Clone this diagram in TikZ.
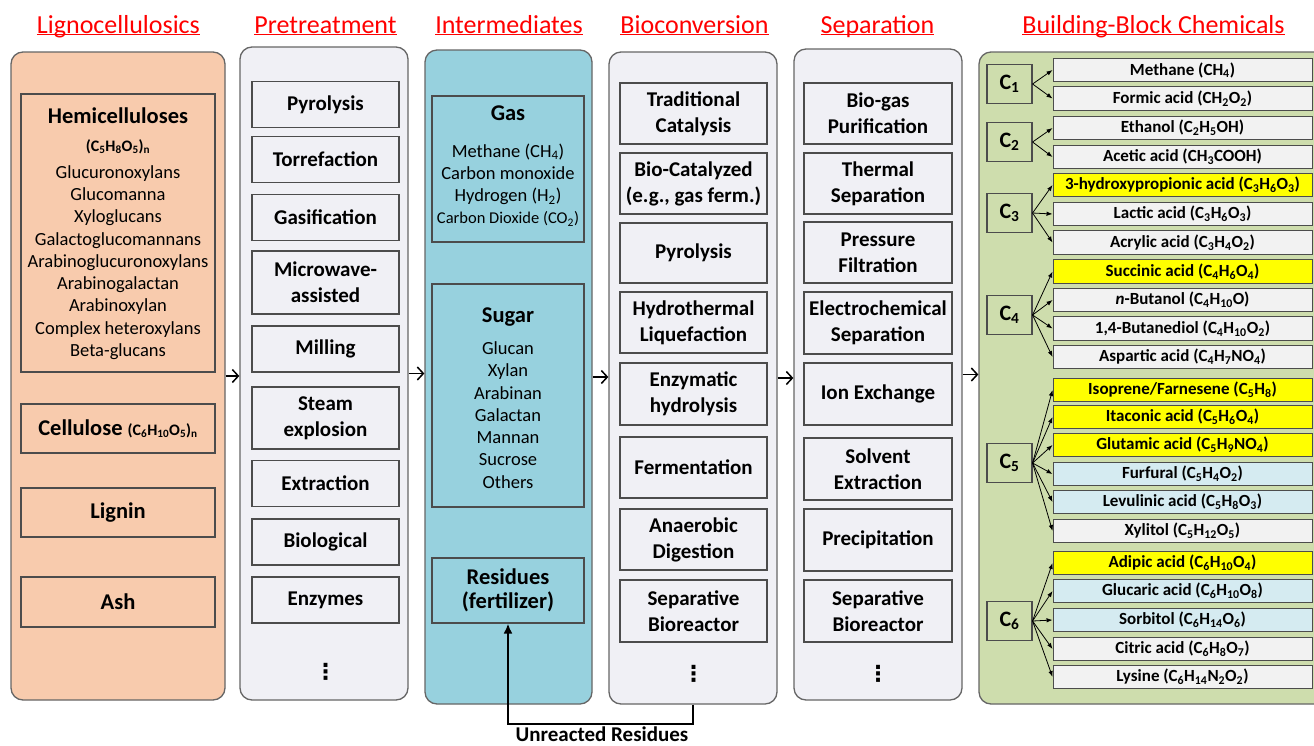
\documentclass[tikz,border=0pt]{standalone}
\usepackage{fontspec}
\setmainfont{Carlito}
\newfontfamily\symfont{DejaVu Sans}
\usetikzlibrary{arrows.meta}

\definecolor{peach}{HTML}{F8CBAD}
\definecolor{palebg}{HTML}{F0F0F5}
\definecolor{interbg}{HTML}{97D1DE}
\definecolor{olivebg}{HTML}{CEDDAD}
\definecolor{chemgray}{HTML}{F2F2F2}
\definecolor{chemblue}{HTML}{D5EBF1}
\definecolor{chemyellow}{HTML}{FFFF00}

\newcommand{\sbs}[1]{\textsubscript{#1}}
\newcommand{\ulhead}[1]{\setbox0\hbox{#1}\rlap{\rule[-2.4pt]{\wd0}{1.5pt}}\box0}

\begin{document}
\begin{tikzpicture}[x=1pt, y=-1pt,
    stage/.style={draw=black!60, line width=1.3pt, rounded corners=12pt, inner sep=0pt},
    heading/.style={anchor=base, text=red, font=\fontsize{26}{30}\selectfont},
    box/.style={draw=black!70, line width=1.1pt, inner sep=0pt, align=center,
      font=\bfseries\fontsize{21}{26}\selectfont},
    lig/.style={box, minimum width=194pt, minimum height=49pt,
      font=\bfseries\fontsize{22.5}{27}\selectfont},
    pre/.style={box, minimum width=147pt},
    inter/.style={box, minimum width=152pt},
    conv/.style={box, minimum width=147pt},
    sepa/.style={box, minimum width=148pt},
    listtext/.style={align=center, font=\fontsize{18.5}{22.3}\selectfont},
    subhead/.style={anchor=base, font=\bfseries\fontsize{22.5}{27}\selectfont},
    dots/.style={font=\symfont\bfseries\fontsize{22}{24}\selectfont},
    carbon/.style={box, minimum width=45pt, minimum height=39pt,
      font=\bfseries\fontsize{22}{26}\selectfont},
    chem/.style={draw=black!70, line width=0.9pt, fill=chemgray, inner sep=0pt,
      minimum width=259pt, minimum height=23.5pt, font=\bfseries\fontsize{17}{20}\selectfont},
    flow/.style={-{Straight Barb[length=6pt,width=13pt]}, line width=1.5pt},
    branch/.style={-{Latex[length=6pt,width=4.5pt]}, line width=0.8pt},
    residue/.style={-{Latex[length=10pt,width=9pt]}, line width=2pt}]

  \useasboundingbox[fill=white] (0,0) rectangle (1314,745);

  % column frames
  \node[stage, fill=peach, minimum width=214pt, minimum height=648pt] (ligno) at (118,376) {};
  \node[stage, fill=palebg, minimum width=168pt, minimum height=653pt] (pretreat) at (324,373.5) {};
  \node[stage, fill=interbg, minimum width=167pt, minimum height=654pt] (inter) at (508.5,377) {};
  \node[stage, fill=palebg, minimum width=168pt, minimum height=652pt] (bio) at (693,378) {};
  \node[stage, fill=palebg, minimum width=168pt, minimum height=651pt] (sep) at (878,374.5) {};
  \node[stage, fill=olivebg, minimum width=351pt, minimum height=652pt] (bbc) at (1154.5,378) {};

  % headings
  \node[heading] (hligno) at (118.5,33) {\ulhead{Lignocellulosics}};
  \node[heading] (hpre) at (325.5,33) {\ulhead{Pretreatment}};
  \node[heading] (hinter) at (509,33) {\ulhead{Intermediates}};
  \node[heading] (hbio) at (694.5,33) {\ulhead{Bioconversion}};
  \node[heading] (hsep) at (877.5,33) {\ulhead{Separation}};
  \node[heading] (hbbc) at (1153.5,33) {\ulhead{Building-Block Chemicals}};

  % lignocellulosics
  \node[box, minimum width=194pt, minimum height=278pt] (hemi) at (118,233) {};
  \node[subhead] (hemititle) at (118,123) {Hemicelluloses};
  \node[anchor=base, font=\bfseries\fontsize{16}{19}\selectfont] (hemiformula) at (118,151)
    {(C\sbs5H\sbs8O\sbs5)\sbs n};
  \node[listtext] (hemilist) at (118,262.5) {Glucuronoxylans\\Glucomanna\\Xyloglucans\\
    Galactoglucomannans\\Arabinoglucuronoxylans\\Arabinogalactan\\Arabinoxylan\\
    Complex heteroxylans\\Beta-glucans};
  \node[lig] (cellu) at (118,428.5) {Cellulose {\fontsize{16}{19}\selectfont(C\sbs6H\sbs{10}O\sbs5)\sbs n}};
  \node[lig] (lignin) at (118,512.5) {Lignin};
  \node[lig, minimum height=50pt] (ash) at (118,602) {Ash};

  % pretreatment
  \node[pre, minimum height=46pt] (pyro1) at (325.5,104.5) {Pyrolysis};
  \node[pre, minimum height=46pt] (torre) at (325.5,159.5) {Torrefaction};
  \node[pre, minimum height=46pt] (gasif) at (325.5,217.5) {Gasification};
  \node[pre, minimum height=63pt] (micro) at (325.5,282.5) {Microwave-\\assisted};
  \node[pre, minimum height=46pt] (mill) at (325.5,349) {Milling};
  \node[pre, minimum height=62pt] (steam) at (325.5,418) {Steam\\explosion};
  \node[pre, minimum height=46pt] (extract) at (325.5,483.5) {Extraction};
  \node[pre, minimum height=46pt] (biolog) at (325.5,542) {Biological};
  \node[pre, minimum height=46pt] (enzym) at (325.5,600) {Enzymes};
  \node[dots] (dots1) at (325.5,672) {⋮};

  % intermediates
  \node[inter, minimum height=146pt] (gas) at (508,169) {};
  \node[subhead] (gastitle) at (508,120) {Gas};
  \node[listtext] (gaslist) at (508,185) {Methane (CH\sbs4)\\Carbon monoxide\\Hydrogen (H\sbs2)\\
    {\fontsize{16.5}{20}\selectfont Carbon Dioxide (CO\sbs2)}};
  \node[inter, minimum height=223pt] (sugar) at (508,395.5) {};
  \node[subhead] (sugartitle) at (508,322) {Sugar};
  \node[listtext] (sugarlist) at (508,415) {Glucan\\Xylan\\Arabinan\\Galactan\\Mannan\\Sucrose\\Others};
  \node[inter, minimum height=65pt, font=\bfseries\fontsize{22.5}{24}\selectfont] (resid) at (508,590.5)
    {Residues\\(fertilizer)};

  % bioconversion
  \node[conv, minimum height=61pt] (trad) at (693.5,113.5) {Traditional\\Catalysis};
  \node[conv, minimum height=61pt] (biocat) at (693.5,183.5) {Bio-Catalyzed\\(e.g., gas ferm.)};
  \node[conv, minimum height=60pt] (pyro2) at (693.5,253) {Pyrolysis};
  \node[conv, minimum height=61pt] (hydro) at (693.5,322.5) {Hydrothermal\\Liquefaction};
  \node[conv, minimum height=62pt] (enzhyd) at (693.5,394) {Enzymatic\\hydrolysis};
  \node[conv, minimum height=61pt] (ferm) at (693.5,467.5) {Fermentation};
  \node[conv, minimum height=61pt] (anaer) at (693.5,539.5) {Anaerobic\\Digestion};
  \node[conv, minimum height=62pt] (sepbio1) at (693.5,611) {Separative\\Bioreactor};
  \node[dots] (dots2) at (693.5,674) {⋮};

  % separation
  \node[sepa, minimum height=61pt] (biogas) at (878,113.5) {Bio-gas\\Purification};
  \node[sepa, minimum height=61pt] (thermal) at (878,183.5) {Thermal\\Separation};
  \node[sepa, minimum height=61pt] (pressure) at (878,252.5) {Pressure\\Filtration};
  \node[sepa, minimum height=62pt] (electro) at (878,323) {Electrochemical\\Separation};
  \node[sepa, minimum height=62pt] (ionex) at (878,394) {Ion Exchange};
  \node[sepa, minimum height=62pt] (solvent) at (878,469) {Solvent\\Extraction};
  \node[sepa, minimum height=62pt] (precip) at (878,540) {Precipitation};
  \node[sepa, minimum height=62pt] (sepbio2) at (878,611) {Separative\\Bioreactor};
  \node[dots] (dots3) at (878,674) {⋮};

  % building-block chemicals
  \node[carbon] (c1) at (1009.5,84) {C\sbs1};
  \node[carbon] (c2) at (1009.5,142) {C\sbs2};
  \node[carbon] (c3) at (1009.5,213) {C\sbs3};
  \node[carbon] (c4) at (1009.5,315) {C\sbs4};
  \node[carbon] (c5) at (1009.5,463) {C\sbs5};
  \node[carbon] (c6) at (1009.5,621) {C\sbs6};

  \node[chem] (methane) at (1182.5,70) {Methane (CH\sbs4)};
  \node[chem] (formic) at (1182.5,98.5) {Formic acid (CH\sbs2O\sbs2)};
  \node[chem] (ethanol) at (1182.5,128) {Ethanol (C\sbs2H\sbs5OH)};
  \node[chem] (acetic) at (1182.5,157) {Acetic acid (CH\sbs3COOH)};
  \node[chem, fill=chemyellow] (hpa) at (1182.5,185) {3-hydroxypropionic acid (C\sbs3H\sbs6O\sbs3)};
  \node[chem] (lactic) at (1182.5,214) {Lactic acid (C\sbs3H\sbs6O\sbs3)};
  \node[chem] (acrylic) at (1182.5,242.5) {Acrylic acid (C\sbs3H\sbs4O\sbs2)};
  \node[chem, fill=chemyellow] (succinic) at (1182.5,271.5) {Succinic acid (C\sbs4H\sbs6O\sbs4)};
  \node[chem] (butanol) at (1182.5,300) {\textit{n}-Butanol (C\sbs4H\sbs{10}O)};
  \node[chem] (bdo) at (1182.5,328.5) {1,4-Butanediol (C\sbs4H\sbs{10}O\sbs2)};
  \node[chem] (aspartic) at (1182.5,357) {Aspartic acid (C\sbs4H\sbs7NO\sbs4)};
  \node[chem, fill=chemyellow] (isoprene) at (1182.5,390) {Isoprene/Farnesene (C\sbs5H\sbs8)};
  \node[chem, fill=chemyellow] (itaconic) at (1182.5,417) {Itaconic acid (C\sbs5H\sbs6O\sbs4)};
  \node[chem, fill=chemyellow] (glutamic) at (1182.5,445) {Glutamic acid (C\sbs5H\sbs9NO\sbs4)};
  \node[chem, fill=chemblue] (furfural) at (1182.5,474) {Furfural (C\sbs5H\sbs4O\sbs2)};
  \node[chem, fill=chemblue] (levulinic) at (1182.5,502) {Levulinic acid (C\sbs5H\sbs8O\sbs3)};
  \node[chem] (xylitol) at (1182.5,531) {Xylitol (C\sbs5H\sbs{12}O\sbs5)};
  \node[chem, fill=chemyellow] (adipic) at (1182.5,563) {Adipic acid (C\sbs6H\sbs{10}O\sbs4)};
  \node[chem, fill=chemblue] (glucaric) at (1182.5,591) {Glucaric acid (C\sbs6H\sbs{10}O\sbs8)};
  \node[chem, fill=chemblue] (sorbitol) at (1182.5,620) {Sorbitol (C\sbs6H\sbs{14}O\sbs6)};
  \node[chem] (citric) at (1182.5,649) {Citric acid (C\sbs6H\sbs8O\sbs7)};
  \node[chem] (lysine) at (1182.5,677) {Lysine (C\sbs6H\sbs{14}N\sbs2O\sbs2)};

  \draw[branch] (c1.east) -- (methane.west);
  \draw[branch] (c1.east) -- (formic.west);
  \draw[branch] (c2.east) -- (ethanol.west);
  \draw[branch] (c2.east) -- (acetic.west);
  \draw[branch] (c3.east) -- (hpa.west);
  \draw[branch] (c3.east) -- (lactic.west);
  \draw[branch] (c3.east) -- (acrylic.west);
  \draw[branch] (c4.east) -- (succinic.west);
  \draw[branch] (c4.east) -- (butanol.west);
  \draw[branch] (c4.east) -- (bdo.west);
  \draw[branch] (c4.east) -- (aspartic.west);
  \draw[branch] (c5.east) -- (isoprene.west);
  \draw[branch] (c5.east) -- (itaconic.west);
  \draw[branch] (c5.east) -- (glutamic.west);
  \draw[branch] (c5.east) -- (furfural.west);
  \draw[branch] (c5.east) -- (levulinic.west);
  \draw[branch] (c5.east) -- (xylitol.west);
  \draw[branch] (c6.east) -- (adipic.west);
  \draw[branch] (c6.east) -- (glucaric.west);
  \draw[branch] (c6.east) -- (sorbitol.west);
  \draw[branch] (c6.east) -- (citric.west);
  \draw[branch] (c6.east) -- (lysine.west);

  % stage to stage
  \draw[flow] (ligno.east) -- (ligno.east -| pretreat.west);
  \draw[flow] (pretreat.east) -- (pretreat.east -| inter.west);
  \draw[flow] (inter.east) -- (inter.east -| bio.west);
  \draw[flow] (bio.east) -- (bio.east -| sep.west);
  \draw[flow] (sep.east) -- (sep.east -| bbc.west);

  % recycle
  \draw[residue] (bio.south) -- ++(0,19) -| (resid.south);
  \node[anchor=base, font=\bfseries\fontsize{21}{25}\selectfont] (unreact) at (602,741) {Unreacted Residues};
\end{tikzpicture}
\end{document}
